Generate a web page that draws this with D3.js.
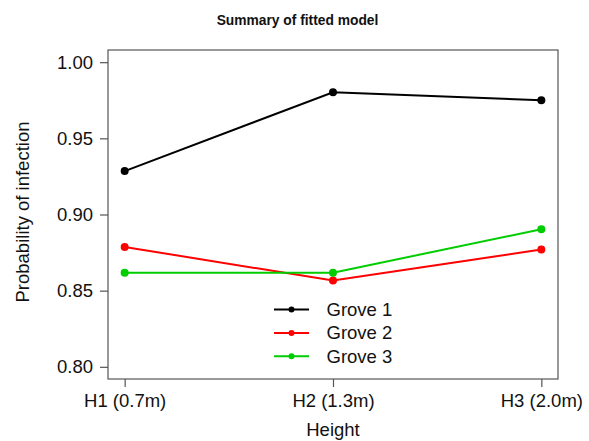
<!DOCTYPE html>
<html>
<head>
<meta charset="utf-8">
<script src="https://cdn.jsdelivr.net/npm/d3@7"></script>
<style>
  body { margin: 0; background: #fff; }
  text { font-family: "Liberation Sans", Arial, sans-serif; fill: #111; }
</style>
</head>
<body>
<script>
const width = 589;
const height = 441;
const margin = { top: 50, right: 31, bottom: 62, left: 108 };

const heights = ["H1 (0.7m)", "H2 (1.3m)", "H3 (2.0m)"];
const groves = ["Grove 1", "Grove 2", "Grove 3"];
const grove1 = [0.9285, 0.9803, 0.9750];
const grove2 = [0.8787, 0.8566, 0.8770];
const grove3 = [0.8618, 0.8618, 0.8903];
const yTicks = [0.80, 0.85, 0.90, 0.95, 1.00];
const colors = ["#000000", "#ff0000", "#00cd00"];

const series = [grove1, grove2, grove3];

const chartWidth = width - margin.left - margin.right;
const chartHeight = height - margin.top - margin.bottom;

const svg = d3.select("body")
  .append("svg")
  .attr("width", width)
  .attr("height", height);

const g = svg.append("g")
  .attr("transform", `translate(${margin.left}, ${margin.top})`);

// R style: 4% padding on each side
const x = d3.scalePoint()
  .domain(heights)
  .range([chartWidth * 0.04 / 1.08, chartWidth * 1.04 / 1.08]);

const y = d3.scaleLinear()
  .domain([0.792, 1.008])
  .range([chartHeight, 0]);

// box
g.append("rect")
  .attr("width", chartWidth)
  .attr("height", chartHeight)
  .attr("fill", "none")
  .attr("stroke", "#555")
  .attr("stroke-width", 1.2);

const yAxis = g.append("g")
  .call(d3.axisLeft(y).tickValues(yTicks).tickSize(8).tickPadding(7).tickFormat(d3.format(".2f")));
yAxis.select(".domain").remove();
yAxis.selectAll("line").attr("stroke", "#555").attr("stroke-width", 1.2);
yAxis.selectAll("text").attr("font-size", 18.5).attr("fill", "#111")
  .attr("font-family", "Liberation Sans, Arial, sans-serif");

const xAxis = g.append("g")
  .attr("transform", `translate(0, ${chartHeight})`)
  .call(d3.axisBottom(x).tickSize(8).tickPadding(7));
xAxis.select(".domain").remove();
xAxis.selectAll("line").attr("stroke", "#555").attr("stroke-width", 1.2);
xAxis.selectAll("text").attr("font-size", 18.5).attr("fill", "#111")
  .attr("font-family", "Liberation Sans, Arial, sans-serif");

const line = d3.line()
  .x((d, i) => x(heights[i]))
  .y(d => y(d));

series.forEach((s, k) => {
  g.append("path")
    .datum(s)
    .attr("d", line)
    .attr("fill", "none")
    .attr("stroke", colors[k])
    .attr("stroke-width", 2);
  g.selectAll(null)
    .data(s)
    .enter()
    .append("circle")
      .attr("cx", (d, i) => x(heights[i]))
      .attr("cy", d => y(d))
      .attr("r", 4)
      .attr("fill", colors[k]);
});

// legend
const legend = g.append("g")
  .attr("transform", `translate(${274 - margin.left}, ${309.5 - margin.top})`);
groves.forEach((name, k) => {
  const row = legend.append("g").attr("transform", `translate(0, ${k * 23.4})`);
  row.append("line")
    .attr("x1", 0).attr("x2", 35)
    .attr("stroke", colors[k])
    .attr("stroke-width", 2);
  row.append("circle")
    .attr("cx", 17.5)
    .attr("r", 3)
    .attr("fill", colors[k]);
  row.append("text")
    .attr("x", 52.5)
    .attr("dy", "0.35em")
    .attr("font-size", 18.5)
    .text(name);
});

svg.append("text")
  .attr("x", 297.5)
  .attr("y", 24.5)
  .attr("text-anchor", "middle")
  .attr("font-size", 13.8)
  .attr("font-weight", "bold")
  .text("Summary of fitted model");

svg.append("text")
  .attr("x", margin.left + chartWidth / 2)
  .attr("y", 436)
  .attr("text-anchor", "middle")
  .attr("font-size", 18.5)
  .text("Height");

svg.append("text")
  .attr("x", -212)
  .attr("y", 29)
  .attr("transform", "rotate(-90)")
  .attr("text-anchor", "middle")
  .attr("font-size", 18.5)
  .text("Probability of infection");
</script>
</body>
</html>
